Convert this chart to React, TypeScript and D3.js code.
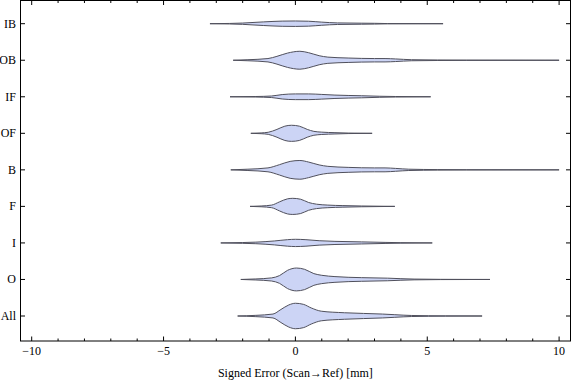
import React from "react";
import * as d3 from "d3";

const categories = ["IB", "OB", "IF", "OF", "B", "F", "I", "O", "All"];

// Each violin: error values (mm) and relative density (half-width)
const ibX = [-3.24, -2.5, -2.0, -1.2, -0.5, 0.0, 0.5, 1.0, 1.6, 2.5, 3.0, 3.5, 5.6];
const ibD = [0, 0.02, 0.05, 0.14, 0.2, 0.21, 0.19, 0.12, 0.06, 0.04, 0.03, 0.01, 0];

const obX = [-2.36, -1.8, -1.04, -0.7, -0.3, 0.17, 0.5, 0.9, 1.23, 2.0, 3.0, 3.4, 3.8, 4.4, 5.4, 6.5, 10.0];
const obD = [0, 0.04, 0.13, 0.3, 0.55, 0.69, 0.58, 0.35, 0.24, 0.17, 0.13, 0.13, 0.1, 0.04, 0.02, 0.01, 0];

const ifX = [-2.48, -1.5, -0.9, -0.5, 0.0, 0.5, 1.0, 1.5, 2.5, 3.2, 3.8, 5.13];
const ifD = [0, 0.02, 0.06, 0.17, 0.22, 0.22, 0.18, 0.13, 0.08, 0.04, 0.02, 0];

const ofX = [-1.69, -1.3, -1.03, -0.7, -0.4, -0.15, 0.15, 0.45, 0.7, 1.0, 1.5, 2.0, 2.91];
const ofD = [0, 0.03, 0.08, 0.3, 0.55, 0.62, 0.55, 0.3, 0.15, 0.09, 0.05, 0.02, 0];

const bX = [-2.45, -1.8, -1.04, -0.6, -0.2, 0.17, 0.5, 0.9, 1.23, 2.0, 3.0, 3.4, 3.8, 4.3, 5.4, 6.5, 10.0];
const bD = [0, 0.05, 0.15, 0.4, 0.65, 0.72, 0.6, 0.38, 0.27, 0.19, 0.15, 0.15, 0.11, 0.05, 0.02, 0.01, 0];

const fX = [-1.72, -1.3, -0.9, -0.6, -0.3, -0.1, 0.2, 0.5, 0.8, 1.23, 1.8, 2.5, 3.77];
const fD = [0, 0.03, 0.1, 0.35, 0.58, 0.62, 0.55, 0.3, 0.17, 0.1, 0.06, 0.03, 0];

const iX = [-2.83, -2.0, -1.5, -0.8, -0.3, 0.0, 0.4, 0.9, 1.5, 2.5, 3.4, 4.0, 5.19];
const iD = [0, 0.03, 0.06, 0.15, 0.25, 0.28, 0.25, 0.17, 0.12, 0.08, 0.04, 0.02, 0];

const oX = [-2.07, -1.5, -0.9, -0.6, -0.3, 0.04, 0.35, 0.7, 1.0, 1.5, 2.5, 3.5, 4.0, 4.5, 5.5, 7.38];
const oD = [0, 0.04, 0.12, 0.3, 0.7, 0.88, 0.78, 0.45, 0.32, 0.22, 0.14, 0.1, 0.06, 0.03, 0.01, 0];

const allX = [-2.19, -1.5, -0.85, -0.55, -0.25, 0.0, 0.3, 0.6, 0.98, 1.86, 3.3, 3.77, 4.4, 5.7, 7.08];
const allD = [0, 0.05, 0.15, 0.5, 0.85, 0.98, 0.9, 0.62, 0.37, 0.25, 0.15, 0.1, 0.04, 0.01, 0];

const xMajorTicks = [-10, -5, 0, 5, 10];
const xMinorTicks = d3.range(-10, 11, 1).filter((v) => v % 5 !== 0);
const xLabel = "Signed Error (Scan\u2192Ref) [mm]";

const profiles: [number[], number[]][] = [
  [ibX, ibD],
  [obX, obD],
  [ifX, ifD],
  [ofX, ofD],
  [bX, bD],
  [fX, fD],
  [iX, iD],
  [oX, oD],
  [allX, allD],
];

const W = 576;
const H = 381;
const frame = { left: 20.5, right: 570.5, top: 0.5, bottom: 341 };

export default function App() {
  const x = d3.scaleLinear().domain([-10, 10]).range([31.7, 559.1]);
  const y = d3.scalePoint<string>().domain(categories).range([23.7, 316]);
  const w = d3.scaleLinear().domain([0, 1]).range([0, 13]);
  const font = "'Liberation Serif', 'Times New Roman', serif";

  return (
    <svg
      width={W}
      height={H}
      style={{ position: "absolute", left: 0, top: 0, background: "#fff" }}
      fontFamily={font}
    >
      {profiles.map(([xs, ds], i) => {
        const cy = y(categories[i]) as number;
        const pts = xs.map((v, k) => [v, ds[k]] as [number, number]);
        const area = d3
          .area<[number, number]>()
          .x((p) => x(p[0]))
          .y0((p) => cy - w(p[1]))
          .y1((p) => cy + w(p[1]))
          .curve(d3.curveMonotoneX);
        return (
          <path
            key={categories[i]}
            d={area(pts) || ""}
            fill="#ccd4f5"
            stroke="#50505c"
            strokeWidth={1}
            strokeLinejoin="round"
          />
        );
      })}

      {/* frame */}
      <rect
        x={frame.left}
        y={frame.top}
        width={frame.right - frame.left}
        height={frame.bottom - frame.top}
        fill="none"
        stroke="#000"
        strokeWidth={1}
      />

      {/* x ticks bottom & top */}
      {xMajorTicks.map((v) => (
        <g key={"M" + v}>
          <line x1={x(v)} x2={x(v)} y1={frame.bottom} y2={frame.bottom - 4.5} stroke="#000" />
          <line x1={x(v)} x2={x(v)} y1={frame.top} y2={frame.top + 4.5} stroke="#000" />
          <text
            x={x(v)}
            y={355}
            textAnchor="middle"
            fontSize={12}
            fill="#000"
          >
            {v < 0 ? "\u2212" + Math.abs(v) : String(v)}
          </text>
        </g>
      ))}
      {xMinorTicks.map((v) => (
        <g key={"m" + v}>
          <line x1={x(v)} x2={x(v)} y1={frame.bottom} y2={frame.bottom - 2.5} stroke="#000" />
          <line x1={x(v)} x2={x(v)} y1={frame.top} y2={frame.top + 2.5} stroke="#000" />
        </g>
      ))}

      {/* y ticks left & right */}
      {categories.map((c) => {
        const cy = y(c) as number;
        return (
          <g key={"y" + c}>
            <line x1={frame.left} x2={frame.left + 4.5} y1={cy} y2={cy} stroke="#000" />
            <line x1={frame.right} x2={frame.right - 4.5} y1={cy} y2={cy} stroke="#000" />
            <text
              x={16}
              y={cy + 4}
              textAnchor="end"
              fontSize={12}
              fill="#000"
            >
              {c}
            </text>
          </g>
        );
      })}

      <text x={x(0)} y={377} textAnchor="middle" fontSize={12} fill="#000">
        {xLabel}
      </text>
    </svg>
  );
}
